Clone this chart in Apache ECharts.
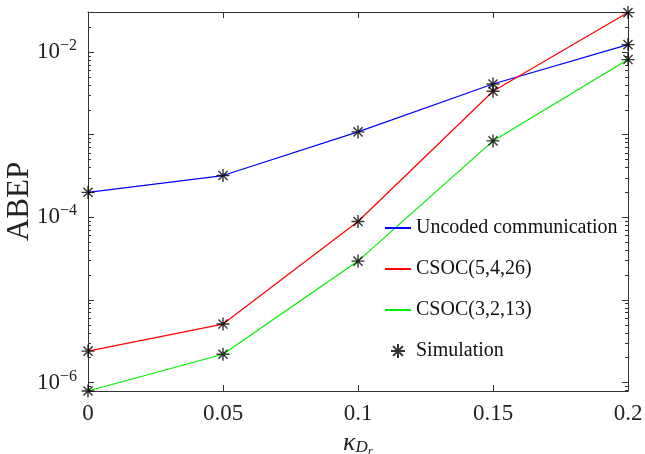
<!DOCTYPE html>
<html>
<head>
<meta charset="utf-8">
<script src="https://cdn.jsdelivr.net/npm/echarts@6/dist/echarts.min.js"></script>
<style>
  html, body { margin: 0; padding: 0; background: #fff; }
  #main { width: 645px; height: 454px; }
</style>
</head>
<body>
<div id="main"></div>
<script>
// kappa_Dr values on the x axis
var kappa = [0, 0.05, 0.1, 0.15, 0.2];
// ABEP
var uncoded = [2.0e-4, 3.2e-4, 1.08e-3, 4.1e-3, 1.23e-2];
var csoc5426 = [2.4e-6, 5.1e-6, 8.9e-5, 3.35e-3, 3.0e-2];
var csoc3213 = [7.9e-7, 2.2e-6, 2.95e-5, 8.4e-4, 8.1e-3];
var seriesNames = ['Uncoded communication', 'CSOC(5,4,26)', 'CSOC(3,2,13)', 'Simulation'];
var yLabelValues = [1e-6, 1e-4, 1e-2];
var yMajorTicks = [1e-6, 1e-5, 1e-4, 1e-3, 1e-2];

var yMin = 7.9e-7, yMax = 0.0305;
var font = 'Liberation Serif';
var axisColor = '#333';

// minor log ticks 2..9 x 10^n
var yMinorTicks = [];
yMajorTicks.concat([1e-7]).forEach(function (d) {
  for (var m = 2; m <= 9; m++) {
    var v = +(m * d).toPrecision(3);
    if (v > yMin && v < yMax) yMinorTicks.push(v);
  }
});

function pairs(ys) {
  return kappa.map(function (x, i) { return [x, ys[i]]; });
}

var star = 'path://M0,-1L0,1M-1,0L1,0M-0.7,-0.7L0.7,0.7M-0.7,0.7L0.7,-0.7';

function yAxis(pos, values, len, labels) {
  return {
    type: 'log', logBase: 10, min: yMin, max: yMax, position: pos,
    axisLine: { show: labels, lineStyle: { color: axisColor, width: 1 } },
    axisTick: { show: true, inside: true, length: len, customValues: values,
      lineStyle: { color: axisColor, width: 1 } },
    axisLabel: labels && pos === 'left' ? {
      show: true, customValues: yLabelValues, margin: 11,
      formatter: function (v) {
        var e = Math.round(Math.log10(v));
        return '{b|10}{s|\u2212' + Math.abs(e) + '}';
      },
      rich: {
        b: { fontFamily: font, fontSize: 23, color: '#222' },
        s: { fontFamily: font, fontSize: 16, color: '#222', padding: [0, 0, 12, 0] }
      }
    } : { show: false },
    splitLine: { show: false },
    name: labels && pos === 'left' ? 'ABEP' : '',
    nameLocation: 'middle', nameGap: 53, nameRotate: 90, nameMoveOverlap: false,
    nameTextStyle: { fontFamily: font, fontSize: 31, color: '#222' }
  };
}

function xAxis(pos, labels) {
  return {
    type: 'value', min: 0, max: 0.2, interval: 0.05, position: pos,
    axisLine: { show: true, lineStyle: { color: axisColor, width: 1 } },
    axisTick: { show: true, inside: true, length: 6, lineStyle: { color: axisColor } },
    axisLabel: { show: labels, fontFamily: font, fontSize: 23, color: '#222', margin: 11 },
    splitLine: { show: false },
    name: labels ? '{k|\u03ba}{d|D}{r|r}' : '',
    nameLocation: 'middle', nameGap: 30,
    nameTextStyle: {
      rich: {
        k: { fontFamily: font, fontStyle: 'italic', fontSize: 26, color: '#222' },
        d: { fontFamily: font, fontStyle: 'italic', fontSize: 17, color: '#222', padding: [10, 0, 0, 0] },
        r: { fontFamily: font, fontStyle: 'italic', fontSize: 13, color: '#222', padding: [18, 0, 0, 0] }
      }
    }
  };
}

function lineSeries(name, ys, color) {
  return {
    name: name, type: 'line', data: pairs(ys), symbol: 'none',
    lineStyle: { color: color, width: 1.2 }, itemStyle: { color: color },
    animation: false, z: 2
  };
}

var simData = pairs(uncoded).concat(pairs(csoc5426), pairs(csoc3213));

var legendData = seriesNames.map(function (n, i) {
  return i < 3 ? { name: n, itemStyle: { opacity: 0 } } : { name: n };
});

var chart = echarts.init(document.getElementById('main'));
chart.setOption({
  backgroundColor: '#fff',
  animation: false,
  grid: { left: 88, right: 17, top: 12, bottom: 63, containLabel: false, outerBoundsMode: 'none' },
  xAxis: [xAxis('bottom', true), xAxis('top', false)],
  yAxis: [
    yAxis('left', yMajorTicks, 6, true),
    yAxis('left', yMinorTicks, 3, false),
    yAxis('right', yMajorTicks, 6, true),
    yAxis('right', yMinorTicks, 3, false)
  ],
  legend: {
    orient: 'vertical', left: 384, top: 218, padding: 0,
    itemWidth: 26, itemHeight: 14, itemGap: 21,
    textStyle: { fontFamily: font, fontSize: 20, color: '#111', lineHeight: 20 },
    data: legendData
  },
  series: [
    lineSeries(seriesNames[0], uncoded, '#0000ff'),
    lineSeries(seriesNames[1], csoc5426, '#ff0000'),
    lineSeries(seriesNames[2], csoc3213, '#00ee00'),
    {
      name: seriesNames[3], type: 'scatter', data: simData,
      symbol: star, symbolSize: 13,
      itemStyle: { color: 'none', borderColor: '#000', borderWidth: 1.4 },
      z: 5
    }
  ]
});
</script>
</body>
</html>
